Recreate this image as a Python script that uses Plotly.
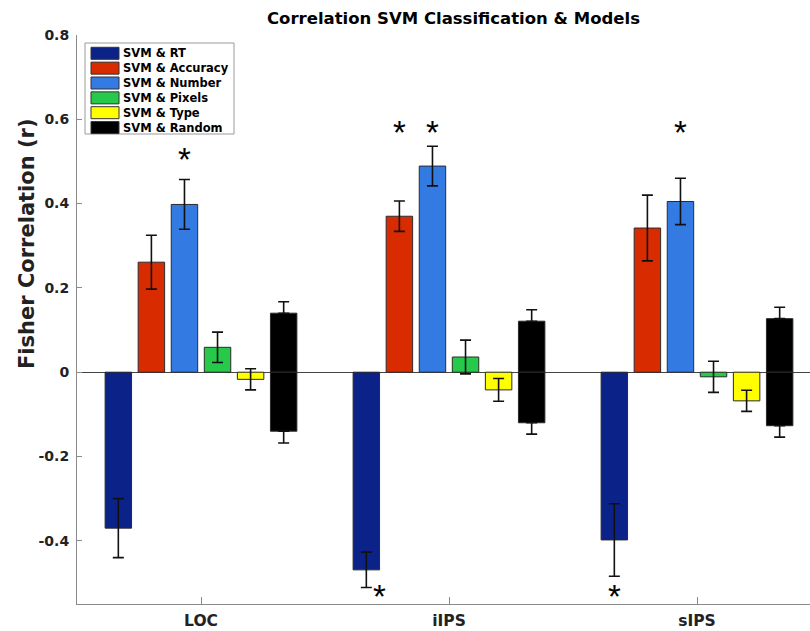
import plotly.graph_objects as go

# ---------------- data ----------------
regions = ["LOC", "iIPS", "sIPS"]
series_names = ["SVM & RT", "SVM & Accuracy", "SVM & Number",
                "SVM & Pixels", "SVM & Type", "SVM & Random"]
series_colors = ["#0b2389", "#d92b00", "#337ae3", "#27c94b", "#ffff00", "#000000"]

rt = [-0.370, -0.469, -0.398]
rt_err = [0.070, 0.042, 0.086]
accuracy = [0.261, 0.370, 0.342]
accuracy_err = [0.064, 0.036, 0.078]
number = [0.398, 0.489, 0.405]
number_err = [0.059, 0.047, 0.055]
pixels = [0.059, 0.036, -0.011]
pixels_err = [0.036, 0.040, 0.037]
type_ = [-0.017, -0.042, -0.068]
type_err = [0.025, 0.027, 0.025]
random_pos = [0.140, 0.121, 0.127]
random_pos_err = [0.027, 0.027, 0.027]
random_neg = [-0.140, -0.120, -0.127]
random_neg_err = [0.028, 0.027, 0.027]

y_ticks = [-0.4, -0.2, 0, 0.2, 0.4, 0.6, 0.8]
y_tick_labels = ["-0.4", "-0.2", "0", "0.2", "0.4", "0.6", "0.8"]

# significance stars: region index, series index, y (visual centre), pixel nudge
star_region = [0, 1, 1, 1, 2, 2]
star_series = [2, 1, 2, 0, 2, 0]
star_y = [0.515, 0.579, 0.579, -0.522, 0.579, -0.522]
star_xshift = [0, 0, 0, 13, 0, 0]

title = "Correlation SVM Classification & Models"
y_title = "Fisher Correlation (r)"

# ---------------- figure ----------------
W, H = 810, 631
ML, MR, MT, MB = 77, 0, 35, 27
PW, PH = W - ML - MR, H - MT - MB
PPU = 248.0  # pixels per category unit
x_max = 0.5 + PW / PPU

FONT = "DejaVu Sans"
x_pos = [i + 1 for i in range(len(regions))]

fig = go.Figure()
edge = dict(color="#2a2a2a", width=1)
err_style = dict(type="data", visible=True, color="#111111", thickness=1.6, width=5.5)

series_vals = [rt, accuracy, number, pixels, type_]
series_errs = [rt_err, accuracy_err, number_err, pixels_err, type_err]
for i, (vals, errs) in enumerate(zip(series_vals, series_errs)):
    fig.add_trace(go.Bar(
        x=x_pos, y=vals, name=series_names[i], offsetgroup=str(i),
        marker=dict(color=series_colors[i], line=edge),
        error_y=dict(array=errs, **err_style),
        showlegend=False,
    ))

# random model: positive and negative parts drawn in the same slot,
# each with an outward error bar only
zeros = [0 for _ in x_pos]
fig.add_trace(go.Bar(
    x=x_pos, y=random_pos, name=series_names[5], offsetgroup="5",
    marker=dict(color=series_colors[5], line=edge),
    error_y=dict(array=random_pos_err, arrayminus=zeros, symmetric=False, **err_style),
    showlegend=False,
))
fig.add_trace(go.Bar(
    x=x_pos, y=random_neg, name=series_names[5], offsetgroup="5",
    marker=dict(color=series_colors[5], line=edge),
    error_y=dict(array=zeros, arrayminus=random_neg_err, symmetric=False, **err_style),
    showlegend=False,
))

n_series = len(series_names)
group_w = 0.8
slot = group_w / n_series

def px_x(px):
    return (px - ML) / PW

def px_y(py):
    return (H - MB - py) / PH

annotations = []
for r, s, yv, dx in zip(star_region, star_series, star_y, star_xshift):
    xc = x_pos[r] + (s - (n_series - 1) / 2) * slot
    annotations.append(dict(
        x=xc, y=yv, xref="x", yref="y", text="*", showarrow=False,
        xanchor="center", yanchor="middle", xshift=dx, yshift=-4,
        font=dict(family="Liberation Sans", size=33, color="black"),
    ))

# title
annotations.append(dict(
    x=px_x(453), y=px_y(19), xref="paper", yref="paper", text=title,
    showarrow=False, xanchor="center", yanchor="middle",
    font=dict(family=FONT, size=16.5, color="black", weight="bold"),
))
# y-axis title
annotations.append(dict(
    x=px_x(27), y=px_y(244), xref="paper", yref="paper", text=y_title,
    showarrow=False, xanchor="center", yanchor="middle", textangle=-90,
    font=dict(family=FONT, size=21, color="#222222", weight="bold"),
))

# manual legend
shapes = []
lx0, lx1, ly0, ly1 = 85, 234, 43, 134
shapes.append(dict(type="rect", xref="paper", yref="paper",
                   x0=px_x(lx0), x1=px_x(lx1), y0=px_y(ly1), y1=px_y(ly0),
                   line=dict(color="#9a9a9a", width=1), fillcolor="white", layer="above"))
row0, pitch = 53.3, 14.85
for i, (name, col) in enumerate(zip(series_names, series_colors)):
    cy = row0 + pitch * i
    shapes.append(dict(type="rect", xref="paper", yref="paper",
                       x0=px_x(91), x1=px_x(119), y0=px_y(cy + 6), y1=px_y(cy - 6),
                       line=dict(color="#333333", width=1), fillcolor=col, layer="above"))
    annotations.append(dict(
        x=px_x(121), y=px_y(cy), xref="paper", yref="paper", text=name,
        showarrow=False, xanchor="left", yanchor="middle",
        font=dict(family=FONT, size=11.5, color="black", weight="bold"),
    ))

fig.update_layout(
    width=W, height=H,
    margin=dict(l=ML, r=MR, t=MT, b=MB, pad=0),
    paper_bgcolor="white", plot_bgcolor="white",
    barmode="group", bargap=0.2, bargroupgap=0.2,
    showlegend=False,
    annotations=annotations,
    shapes=shapes,
    xaxis=dict(
        range=[0.5, x_max], tickmode="array", tickvals=x_pos, ticktext=regions,
        showline=True, linecolor="#8a8a8a", linewidth=1,
        ticks="inside", ticklen=7, tickcolor="#8a8a8a", tickwidth=1,
        showgrid=False, zeroline=False,
        tickfont=dict(family=FONT, size=15.5, color="#222222", weight="bold"),
        ticklabelstandoff=2,
    ),
    yaxis=dict(
        range=[-0.55, 0.8], tickmode="array", tickvals=y_ticks, ticktext=y_tick_labels,
        showline=True, linecolor="#8a8a8a", linewidth=1,
        ticks="inside", ticklen=5, tickcolor="#8a8a8a", tickwidth=1,
        showgrid=False, zeroline=True, zerolinecolor="#444444", zerolinewidth=1,
        tickfont=dict(family=FONT, size=14, color="#222222", weight="bold"),
        ticklabelstandoff=4,
    ),
)

fig.write_html("out.html", config={"displayModeBar": False})
